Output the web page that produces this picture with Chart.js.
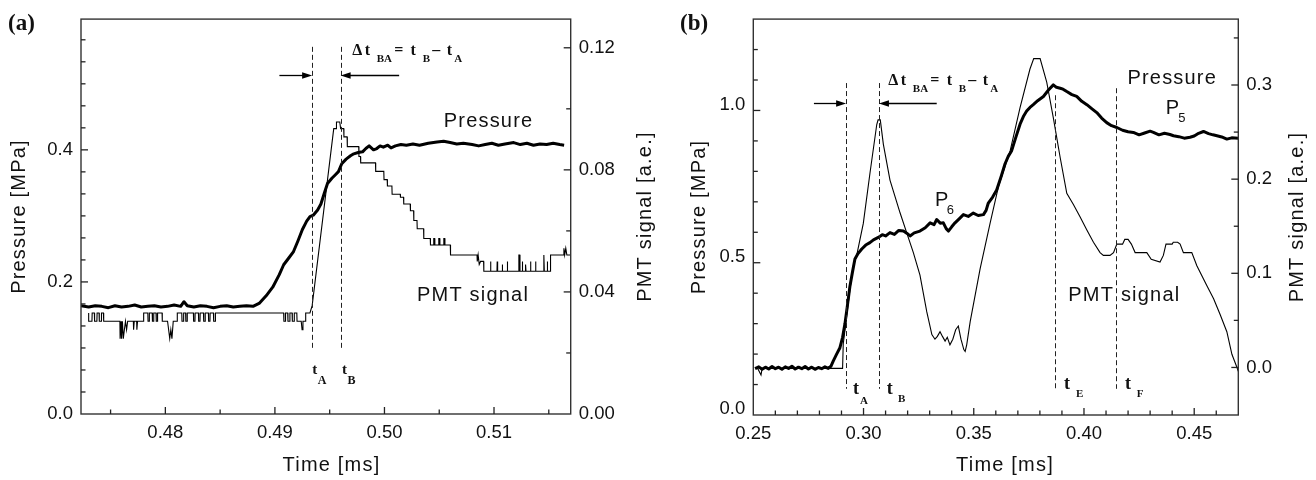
<!DOCTYPE html>
<html>
<head>
<meta charset="utf-8">
<script src="https://cdn.jsdelivr.net/npm/chart.js@4.4.1/dist/chart.umd.min.js"></script>
<style>
  body { margin: 0; background: #fff; }
  .wrap { position: relative; width: 1316px; height: 480px; overflow: hidden; }
  #chartA { position: absolute; left: 0; top: 0; }
  #chartB { position: absolute; left: 672px; top: 0; }
</style>
</head>
<body>
<div class="wrap">
  <canvas id="chartA" width="680" height="480"></canvas>
  <canvas id="chartB" width="644" height="480"></canvas>
</div>
<script>
// ---- panel (a): [time ms, value] ----
const pressA = [
  [0.4723,0.164],[0.4730,0.162],[0.4736,0.164],[0.4742,0.163],[0.4748,0.161],[0.4754,0.164],[0.4760,0.162],
  [0.4766,0.163],[0.4772,0.165],[0.4778,0.162],[0.4784,0.163],[0.4790,0.164],[0.4796,0.162],[0.4802,0.163],
  [0.4808,0.165],[0.4814,0.163],[0.4817,0.170],[0.4820,0.164],[0.4826,0.162],[0.4832,0.164],[0.4838,0.163],
  [0.4844,0.161],[0.4850,0.163],[0.4856,0.164],[0.4862,0.162],[0.4868,0.163],[0.4874,0.164],[0.4880,0.163],
  [0.4886,0.168],[0.4892,0.179],[0.4898,0.192],[0.4904,0.211],[0.4908,0.226],[0.4913,0.237],[0.4917,0.246],
  [0.4921,0.262],[0.4925,0.279],[0.4929,0.292],[0.4932,0.299],[0.4935,0.301],[0.4939,0.309],[0.4942,0.318],
  [0.4945,0.334],[0.4948,0.349],[0.4952,0.357],[0.4955,0.362],[0.4958,0.367],[0.4961,0.379],[0.4965,0.386],
  [0.4969,0.391],[0.4972,0.394],[0.4976,0.396],[0.4980,0.397],[0.4983,0.402],[0.4986,0.406],[0.4988,0.403],
  [0.4990,0.400],[0.4993,0.402],[0.4996,0.406],[0.4999,0.404],[0.5003,0.407],[0.5006,0.403],[0.5010,0.406],
  [0.5015,0.408],[0.5020,0.407],[0.5026,0.409],[0.5032,0.407],[0.5040,0.410],[0.5048,0.412],[0.5054,0.413],
  [0.5060,0.411],[0.5066,0.409],[0.5072,0.410],[0.5080,0.408],[0.5086,0.406],[0.5092,0.408],[0.5098,0.410],
  [0.5104,0.407],[0.5110,0.409],[0.5118,0.411],[0.5124,0.408],[0.5130,0.410],[0.5136,0.407],[0.5142,0.409],
  [0.5148,0.408],[0.5154,0.410],[0.5160,0.408],[0.5164,0.407]
];
const pmtA = [
  [0.47300,0.0331],[0.47300,0.0304],[0.47330,0.0304],[0.47332,0.0331],[0.47352,0.0331],[0.47354,0.0304],
  [0.47375,0.0304],[0.47377,0.0331],[0.47395,0.0331],[0.47397,0.0304],[0.47415,0.0304],[0.47417,0.0331],
  [0.47435,0.0331],[0.47437,0.0304],[0.47585,0.0304],[0.47587,0.0247],[0.47596,0.0304],[0.47600,0.0247],
  [0.47608,0.0304],[0.47616,0.0247],[0.47626,0.0276],[0.47636,0.0304],[0.47646,0.0276],[0.47656,0.0304],
  [0.47708,0.0304],[0.47710,0.0276],[0.47716,0.0304],[0.47738,0.0304],[0.47740,0.0276],[0.47746,0.0304],
  [0.47802,0.0304],[0.47802,0.0331],[0.47840,0.0331],[0.47842,0.0304],[0.47852,0.0304],[0.47854,0.0331],
  [0.47880,0.0331],[0.47882,0.0304],[0.47892,0.0304],[0.47894,0.0331],[0.47915,0.0331],[0.47917,0.0304],
  [0.47927,0.0304],[0.47929,0.0331],[0.47970,0.0331],[0.47972,0.0304],[0.48020,0.0304],[0.48030,0.0276],
  [0.48040,0.0247],[0.48050,0.0276],[0.48060,0.0247],[0.48072,0.0304],[0.48107,0.0304],[0.48109,0.0331],
  [0.48150,0.0331],[0.48152,0.0304],[0.48165,0.0304],[0.48167,0.0331],[0.48185,0.0331],[0.48187,0.0304],
  [0.48198,0.0304],[0.48200,0.0331],[0.48256,0.0331],[0.48258,0.0304],[0.48270,0.0304],[0.48272,0.0331],
  [0.48302,0.0331],[0.48304,0.0304],[0.48316,0.0304],[0.48318,0.0331],[0.48348,0.0331],[0.48350,0.0304],
  [0.48362,0.0304],[0.48364,0.0331],[0.48393,0.0331],[0.48395,0.0304],[0.48407,0.0304],[0.48409,0.0331],
  [0.48439,0.0331],[0.48441,0.0304],[0.48455,0.0304],[0.48457,0.0331],[0.49080,0.0331],[0.49082,0.0304],
  [0.49095,0.0304],[0.49097,0.0331],[0.49117,0.0331],[0.49119,0.0304],[0.49135,0.0304],[0.49137,0.0331],
  [0.49157,0.0331],[0.49159,0.0304],[0.49175,0.0304],[0.49177,0.0331],[0.49200,0.0331],[0.49202,0.0304],
  [0.49240,0.0304],[0.49248,0.0276],[0.49256,0.0304],[0.49279,0.0304],[0.49281,0.0331],[0.49320,0.0331],
  [0.49340,0.0355],[0.49537,0.0935],[0.49560,0.0935],[0.49562,0.0957],[0.49592,0.0957],[0.49600,0.0935],
  [0.49628,0.0935],[0.49630,0.0908],[0.49659,0.0908],[0.49661,0.0876],[0.49765,0.0876],[0.49767,0.0844],
  [0.49781,0.0844],[0.49783,0.0823],[0.49918,0.0823],[0.49920,0.0795],[0.49994,0.0795],[0.49996,0.0768],
  [0.50025,0.0768],[0.50027,0.0747],[0.50068,0.0747],[0.50070,0.0720],[0.50144,0.0720],[0.50146,0.0710],
  [0.50174,0.0710],[0.50176,0.0688],[0.50235,0.0688],[0.50237,0.0666],[0.50266,0.0666],[0.50268,0.0634],
  [0.50297,0.0634],[0.50299,0.0607],[0.50357,0.0607],[0.50359,0.0575],[0.50418,0.0575],[0.50420,0.0554],
  [0.50448,0.0554],[0.50450,0.0575],[0.50458,0.0575],[0.50460,0.0554],[0.50494,0.0554],[0.50496,0.0575],
  [0.50504,0.0575],[0.50506,0.0554],[0.50540,0.0554],[0.50542,0.0575],[0.50550,0.0575],[0.50552,0.0554],
  [0.50601,0.0554],[0.50603,0.0521],[0.50845,0.0521],[0.50847,0.0500],[0.50855,0.0521],[0.50865,0.0490],
  [0.50877,0.0500],[0.50905,0.0500],[0.50907,0.0468],[0.50966,0.0468],[0.50968,0.0500],[0.50972,0.0468],
  [0.51027,0.0468],[0.51029,0.0500],[0.51033,0.0468],[0.51073,0.0468],[0.51075,0.0490],[0.51079,0.0468],
  [0.51119,0.0468],[0.51121,0.0500],[0.51125,0.0468],[0.51225,0.0468],[0.51227,0.0521],[0.51235,0.0521],
  [0.51237,0.0468],[0.51256,0.0468],[0.51258,0.0500],[0.51262,0.0468],[0.51286,0.0468],[0.51288,0.0490],
  [0.51292,0.0468],[0.51331,0.0468],[0.51333,0.0500],[0.51337,0.0468],[0.51377,0.0468],[0.51379,0.0500],
  [0.51383,0.0468],[0.51453,0.0468],[0.51455,0.0521],[0.51459,0.0468],[0.51484,0.0468],[0.51486,0.0500],
  [0.51490,0.0468],[0.51514,0.0468],[0.51516,0.0521],[0.51636,0.0521],[0.51638,0.0543],[0.51645,0.0521],
  [0.51655,0.0543],[0.51665,0.0521],[0.51705,0.0521]
];
const marksA = [0.4934, 0.4960];          // t_A, t_B

// ---- panel (b) ----
const pressB = [
  [0.2508,0.152],[0.2525,0.158],[0.2540,0.150],[0.2555,0.157],[0.2570,0.151],[0.2585,0.159],[0.2600,0.152],
  [0.2615,0.157],[0.2630,0.150],[0.2645,0.158],[0.2660,0.153],[0.2675,0.160],[0.2690,0.151],[0.2705,0.157],
  [0.2720,0.152],[0.2735,0.159],[0.2750,0.151],[0.2765,0.157],[0.2780,0.150],[0.2795,0.156],[0.2810,0.152],
  [0.2825,0.158],[0.2840,0.153],[0.2852,0.160],[0.2863,0.178],[0.2878,0.200],[0.2893,0.221],[0.2905,0.255],
  [0.2916,0.301],[0.2927,0.360],[0.2938,0.421],[0.2950,0.470],[0.2961,0.512],[0.2975,0.530],[0.2992,0.545],
  [0.3010,0.558],[0.3029,0.566],[0.3045,0.575],[0.3067,0.583],[0.3085,0.592],[0.3100,0.588],[0.3120,0.599],
  [0.3140,0.593],[0.3160,0.606],[0.3181,0.604],[0.3196,0.597],[0.3211,0.588],[0.3230,0.598],[0.3256,0.604],
  [0.3280,0.615],[0.3302,0.631],[0.3320,0.625],[0.3332,0.642],[0.3348,0.630],[0.3362,0.631],[0.3375,0.612],
  [0.3385,0.604],[0.3400,0.618],[0.3415,0.631],[0.3435,0.645],[0.3453,0.658],[0.3475,0.652],[0.3498,0.663],
  [0.3520,0.655],[0.3544,0.658],[0.3556,0.672],[0.3566,0.696],[0.3585,0.715],[0.3604,0.739],[0.3625,0.785],
  [0.3642,0.825],[0.3657,0.850],[0.3672,0.868],[0.3690,0.910],[0.3710,0.955],[0.3725,0.980],[0.3740,0.998],
  [0.3755,1.010],[0.3770,1.019],[0.3790,1.032],[0.3816,1.046],[0.3840,1.068],[0.3861,1.084],[0.3875,1.076],
  [0.3892,1.073],[0.3905,1.070],[0.3922,1.062],[0.3945,1.052],[0.3967,1.046],[0.3990,1.030],[0.4013,1.019],
  [0.4035,1.006],[0.4058,0.993],[0.4080,0.975],[0.4103,0.960],[0.4125,0.950],[0.4149,0.944],[0.4175,0.935],
  [0.4200,0.930],[0.4224,0.928],[0.4250,0.920],[0.4275,0.926],[0.4300,0.932],[0.4315,0.928],[0.4340,0.920],
  [0.4365,0.925],[0.4390,0.921],[0.4406,0.917],[0.4430,0.914],[0.4455,0.909],[0.4481,0.912],[0.4500,0.916],
  [0.4520,0.925],[0.4542,0.931],[0.4565,0.924],[0.4585,0.920],[0.4603,0.917],[0.4625,0.913],[0.4648,0.906],
  [0.4670,0.910],[0.4700,0.909]
];
const pmtB = [
  [0.2520,-0.001],[0.2535,-0.008],[0.2540,-0.001],[0.2905,-0.001],[0.2908,0.025],[0.2939,0.084],[0.2954,0.108],
  [0.2969,0.119],[0.2999,0.153],[0.3029,0.206],[0.3060,0.258],[0.3066,0.263],[0.3076,0.263],[0.3090,0.237],
  [0.3120,0.199],[0.3166,0.164],[0.3196,0.143],[0.3226,0.122],[0.3256,0.098],[0.3287,0.059],[0.3310,0.035],
  [0.3324,0.030],[0.3335,0.033],[0.3347,0.038],[0.3358,0.033],[0.3370,0.028],[0.3380,0.032],[0.3392,0.024],
  [0.3405,0.030],[0.3418,0.040],[0.3430,0.044],[0.3442,0.030],[0.3455,0.019],[0.3461,0.017],[0.3468,0.024],
  [0.3484,0.049],[0.3529,0.105],[0.3574,0.153],[0.3612,0.192],[0.3665,0.230],[0.3710,0.276],[0.3755,0.317],
  [0.3772,0.328],[0.3801,0.328],[0.3831,0.303],[0.3861,0.265],[0.3892,0.223],[0.3922,0.185],[0.3952,0.173],
  [0.3982,0.160],[0.4013,0.146],[0.4043,0.133],[0.4073,0.122],[0.4088,0.119],[0.4118,0.119],[0.4134,0.122],
  [0.4149,0.131],[0.4175,0.131],[0.4185,0.136],[0.4200,0.136],[0.4215,0.131],[0.4232,0.122],[0.4285,0.122],
  [0.4305,0.115],[0.4345,0.112],[0.4360,0.119],[0.4372,0.131],[0.4400,0.131],[0.4405,0.133],[0.4425,0.133],
  [0.4436,0.131],[0.4451,0.122],[0.4489,0.122],[0.4512,0.108],[0.4557,0.087],[0.4588,0.073],[0.4618,0.056],
  [0.4648,0.038],[0.4671,0.014],[0.4694,0.000],[0.4700,-0.004]
];
const marksB = [0.2921, 0.3070, 0.3870, 0.4146];   // t_A, t_B, t_E, t_F

const SANS = "'Liberation Sans', Arial, sans-serif";
const SERIF = "'Liberation Serif', 'Times New Roman', serif";
const ANN = "20px " + SANS;
Chart.defaults.font.family = SANS;

const near = (v, s) => Math.abs(v / s - Math.round(v / s)) < 1e-6;

function axis(pos, min, max, step, major, digits, size, off) {
  const horiz = pos === 'bottom';
  return {
    type: 'linear', position: pos, min: min, max: max,
    grid: { display: false, drawTicks: false },
    border: { display: false },
    afterFit: s => { if (horiz) s.height = size; else s.width = size; },
    ticks: {
      stepSize: step, autoSkip: false, maxRotation: 0, includeBounds: false, maxTicksLimit: 100,
      padding: 8, labelOffset: off || 0, color: '#111', font: { family: SANS, size: 18.5 },
      callback: v => near(v, major) ? (Math.abs(v) < 1e-9 ? 0 : v).toFixed(digits) : ''
    }
  };
}

// inward tick marks, minor every `step`, long ones every `major`
function inTicks(ctx, a, sc, step, major, side) {
  const k0 = Math.ceil(sc.min / step - 1e-6), k1 = Math.floor(sc.max / step + 1e-6);
  for (let k = k0; k <= k1; k++) {
    const v = k * step;
    const p = sc.getPixelForValue(v);
    const len = near(v, major) ? 7 : 4.5;
    if (side === 'bottom') {
      if (p < a.left + 1 || p > a.right - 1) continue;
      ctx.beginPath(); ctx.moveTo(p, a.bottom); ctx.lineTo(p, a.bottom - len); ctx.stroke();
    } else {
      if (p < a.top + 1 || p > a.bottom - 1) continue;
      const x0 = side === 'left' ? a.left : a.right;
      ctx.beginPath(); ctx.moveTo(x0, p); ctx.lineTo(side === 'left' ? x0 + len : x0 - len, p); ctx.stroke();
    }
  }
}

function decor(d) {
  return {
    id: 'decor',
    afterDraw(chart) {
      const ctx = chart.ctx, a = chart.chartArea;
      const sx = chart.scales.x, sy = chart.scales.y;
      const X = t => sx.getPixelForValue(t), Y = p => sy.getPixelForValue(p);
      ctx.save();
      // box and inward ticks
      ctx.strokeStyle = '#333'; ctx.lineWidth = 1.4;
      ctx.strokeRect(a.left, a.top, a.right - a.left, a.bottom - a.top);
      ctx.lineWidth = 1.3; ctx.strokeStyle = '#222';
      inTicks(ctx, a, chart.scales.x, d.ticks[0][0], d.ticks[0][1], 'bottom');
      inTicks(ctx, a, chart.scales.y, d.ticks[1][0], d.ticks[1][1], 'left');
      inTicks(ctx, a, chart.scales.y1, d.ticks[2][0], d.ticks[2][1], 'right');
      // dashed time markers
      ctx.strokeStyle = '#222'; ctx.lineWidth = 1; ctx.setLineDash([5, 3]);
      d.marks.forEach((t, i) => {
        const x = Math.round(X(t)) + 0.5;
        ctx.beginPath(); ctx.moveTo(x, Y(d.markTop[i])); ctx.lineTo(x, Y(d.markBottom)); ctx.stroke();
      });
      ctx.setLineDash([]);
      // arrows
      ctx.strokeStyle = '#000'; ctx.fillStyle = '#000'; ctx.lineWidth = 1.3;
      d.arrows.forEach(r => {
        const x0 = X(r[0]), x1 = X(r[1]), y = Math.round(Y(d.arrowP)) + 0.5, s = Math.sign(x1 - x0);
        ctx.beginPath(); ctx.moveTo(x0, y); ctx.lineTo(x1 - s * 6, y); ctx.stroke();
        ctx.beginPath(); ctx.moveTo(x1, y); ctx.lineTo(x1 - s * 10, y - 3.2); ctx.lineTo(x1 - s * 10, y + 3.2);
        ctx.closePath(); ctx.fill();
      });
      // text labels anchored in data coords
      ctx.textAlign = 'left'; ctx.textBaseline = 'alphabetic'; ctx.fillStyle = '#111';
      d.labels.forEach(l => {
        const x = X(l.t), y = Y(l.p);
        l.parts.forEach(q => {
          ctx.font = q[3]; ctx.letterSpacing = q[4] || '0px';
          ctx.fillText(q[0], x + q[1], y + q[2]);
        });
      });
      // axis titles
      ctx.font = ANN; ctx.letterSpacing = '1.2px';
      const cy = (a.top + a.bottom) / 2;
      [[d.leftX, d.titleY], [d.rightX, d.titleY1]].forEach(tt => {
        ctx.save(); ctx.translate(tt[0], cy); ctx.rotate(-Math.PI / 2);
        ctx.textAlign = 'center'; ctx.textBaseline = 'middle';
        ctx.fillText(tt[1], 0, 0); ctx.restore();
      });
      ctx.textAlign = 'center'; ctx.textBaseline = 'alphabetic';
      ctx.fillText(d.titleX, d.bottomX, d.bottomY);
      // panel tag
      ctx.letterSpacing = '0px'; ctx.textAlign = 'left';
      ctx.font = "bold 23px " + SERIF;
      ctx.fillText(d.tag, 8, 29.5);
      ctx.restore();
    }
  };
}

function build(id, press, pmt, scales, d) {
  return new Chart(document.getElementById(id), {
    type: 'line',
    data: { datasets: [
      { data: pmt.map(q => ({ x: q[0], y: q[1] })), yAxisID: 'y1', borderColor: '#000',
        borderWidth: 1.1, pointRadius: 0, tension: 0 },
      { data: press.map(q => ({ x: q[0], y: q[1] })), yAxisID: 'y', borderColor: '#000',
        borderWidth: 3, borderJoinStyle: 'round', pointRadius: 0, tension: 0 }
    ] },
    options: {
      responsive: false, animation: false, devicePixelRatio: 1,
      layout: { padding: { top: 13, left: 0, right: 0, bottom: 0 } },
      plugins: { legend: { display: false }, tooltip: { enabled: false } },
      scales: scales
    },
    plugins: [decor(d)]
  });
}

const DB = "bold 16px " + SERIF, DS = "bold 11px " + SERIF;
const delta = [['Δ',0,0,DB],['t',12.5,0,DB],['BA',24.5,7,DS],['=',42,0,DB],['t',58.3,0,DB],
               ['B',70.5,7,DS],['–',80,0,DB],['t',94.5,0,DB],['A',102,7,DS]];
const TA = "bold 15px " + SERIF, SA = "bold 12px " + SERIF;
const TB = "bold 18px " + SERIF, SB = "bold 11px " + SERIF;

build('chartA', pressA, pmtA, {
  x: axis('bottom', 0.4723, 0.5170, 0.005, 0.01, 2, 66),
  y: axis('left', 0, 0.598, 0.2 / 6, 0.2, 1, 81),
  y1: axis('right', 0, 0.1294, 0.02, 0.04, 2, 109.3)
}, {
  ticks: [[0.005, 0.01], [0.2 / 6, 0.2], [0.02, 0.04]],
  marks: marksA, markTop: [0.556, 0.556], markBottom: 0.0985,
  arrows: [[0.49041, marksA[0]], [0.50134, marksA[1]]], arrowP: 0.514,
  labels: [
    { t: 0.49705, p: 0.5433, parts: delta },
    { t: 0.50541, p: 0.4339, parts: [['Pressure', 0, 0, ANN, '1.2px']] },
    { t: 0.50297, p: 0.1712, parts: [['PMT signal', 0, 0, ANN, '1.2px']] },
    { t: 0.49340, p: 0.0607, parts: [['t', 0, 0, TA], ['A', 5.5, 10, SA]] },
    { t: 0.49612, p: 0.0607, parts: [['t', 0, 0, TA], ['B', 5.5, 10, SA]] }
  ],
  leftX: 19.2, rightX: 645.5, bottomX: 331.5, bottomY: 471,
  titleY: 'Pressure [MPa]', titleY1: 'PMT signal [a.e.]', titleX: 'Time [ms]', tag: '(a)'
});

build('chartB', pressB, pmtB, {
  x: axis('bottom', 0.25, 0.47, 0.01, 0.05, 2, 65),
  y: axis('left', 0, 1.3, 0.1, 0.5, 1, 81.3, -6),
  y1: axis('right', -0.0505, 0.370, 0.05, 0.1, 1, 77.7)
}, {
  ticks: [[0.01, 0.05], [0.1, 0.5], [0.05, 0.1]],
  marks: marksB, markTop: [1.090, 1.090, 1.050, 1.073], markBottom: 0.086,
  arrows: [[0.2775, marksB[0]], [0.3332, marksB[1]]], arrowP: 1.025,
  labels: [
    { t: 0.31125, p: 1.0841, parts: delta },
    { t: 0.4197, p: 1.0864, parts: [['Pressure', 0, 0, ANN, '1.2px']] },
    { t: 0.4371, p: 0.987, parts: [['P', 0, 0, ANN], ['5', 12.6, 7.3, "13px " + SANS]] },
    { t: 0.3324, p: 0.685, parts: [['P', 0, 0, ANN], ['6', 11.7, 7.4, "13px " + SANS]] },
    { t: 0.3929, p: 0.3744, parts: [['PMT signal', 0, 0, ANN, '1.2px']] },
    { t: 0.29524, p: 0.0702, parts: [['t', 0, 0, TB], ['A', 7, 10, SB]] },
    { t: 0.31053, p: 0.0702, parts: [['t', 0, 0, TB], ['B', 11.3, 8.4, SB]] },
    { t: 0.39097, p: 0.0864, parts: [['t', 0, 0, TB], ['E', 12, 8.4, SB]] },
    { t: 0.41865, p: 0.0864, parts: [['t', 0, 0, TB], ['F', 11.7, 8.4, SB]] }
  ],
  leftX: 27.2, rightX: 625.5, bottomX: 333, bottomY: 471,
  titleY: 'Pressure [MPa]', titleY1: 'PMT signal [a.e.]', titleX: 'Time [ms]', tag: '(b)'
});
</script>
</body>
</html>
